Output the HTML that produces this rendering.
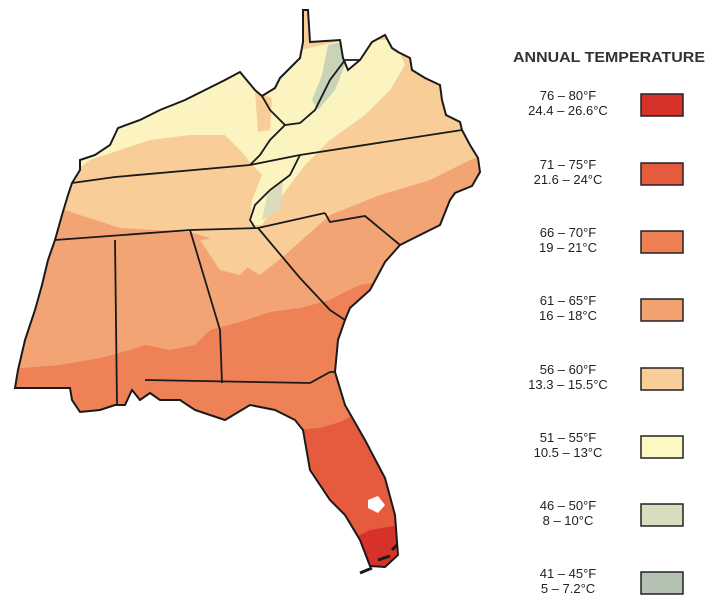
<!DOCTYPE html>
<html><head><meta charset="utf-8"><style>
body{margin:0;background:#fff;width:720px;height:605px;overflow:hidden;font-family:"Liberation Sans",sans-serif}
</style></head><body>
<svg width="720" height="605" viewBox="0 0 720 605" xmlns="http://www.w3.org/2000/svg">
<defs>
<clipPath id="c"><path id="outline" d="M55,240 L62,215 L68,195 L72,183 L80,170 L80,160 L95,155 L110,145 L118,128 L140,120 L160,110 L185,100 L205,90 L225,80 L240,72 L255,90 L262,96 L275,88 L280,78 L290,68 L300,58 L303,42 L303,10 L308,10 L310,42 L340,40 L343,58 L348,70 L360,60 L372,42 L385,35 L392,48 L398,52 L410,58 L412,70 L425,78 L440,85 L442,100 L446,115 L460,122 L462,130 L470,145 L478,158 L480,172 L472,186 L455,193 L450,200 L440,225 L410,240 L400,245 L385,262 L370,290 L350,308 L345,320 L338,340 L335,372 L345,405 L365,440 L385,478 L395,515 L398,555 L385,567 L370,566 L360,540 L345,515 L330,500 L310,470 L303,430 L295,420 L275,410 L250,405 L225,420 L210,415 L195,410 L180,400 L160,400 L150,393 L140,400 L132,390 L125,405 L115,405 L100,410 L80,412 L72,400 L70,388 L15,388 L18,370 L25,340 L35,310 L42,285 L48,260 Z"/></clipPath>
</defs>
<g clip-path="url(#c)">
<rect x="0" y="0" width="500" height="605" fill="#f9cd98"/>
<path d="M60,150 L120,120 L240,70 L300,50 L345,40 L395,40 L405,65 L390,90 L365,115 L330,140 L305,165 L290,185 L275,205 L262,225 L250,225 L252,200 L262,175 L250,162 L240,150 L225,135 L190,135 L150,140 L120,150 L90,160 L70,175 Z" fill="#fbf3c0"/>
<path d="M255,92 L272,98 L270,130 L258,132 Z" fill="#f9cd98"/>
<path d="M328,45 L342,42 L345,65 L335,90 L318,110 L312,100 L322,75 Z" fill="#c9d3b8"/>
<path d="M268,192 L283,182 L280,210 L262,220 Z" fill="#d9dcbd"/>
<path d="M0,210 L50,205 L80,215 L120,228 L190,232 L215,240 L235,260 L260,275 L285,255 L330,215 L380,195 L430,180 L470,160 L500,150 L500,605 L0,605 Z" fill="#f3a474"/>
<path d="M200,240 L240,235 L255,260 L240,275 L220,270 Z" fill="#f9cd98"/>
<path d="M0,370 L60,365 L100,358 L130,350 L145,345 L170,350 L195,345 L210,330 L240,322 L270,312 L300,308 L330,300 L345,292 L360,285 L500,260 L500,605 L0,605 Z" fill="#ee8156"/>
<path d="M295,430 L320,428 L340,422 L360,412 L500,405 L500,605 L295,605 Z" fill="#e65a3e"/>
<path d="M340,545 L370,530 L400,525 L400,605 L340,605 Z" fill="#d7322a"/>
</g>
<path d="M368,500 L378,496 L385,505 L378,513 L368,508 Z" fill="#fff"/>
<use href="#outline" fill="none" stroke="#1a1a1a" stroke-width="2"/>
<g fill="none" stroke="#1a1a1a" stroke-width="1.8">
<path d="M72,183 L115,177 L250,165 L300,155 L462,130"/>
<path d="M55,240 L190,230 L258,228 L325,213"/>
<path d="M115,240 L117,405"/>
<path d="M190,230 L220,330 L222,383"/>
<path d="M145,380 L310,383 L330,372 L335,372"/>
<path d="M258,228 L300,278 L330,310 L345,320"/>
<path d="M325,213 L330,222 L365,216 L400,245"/>
<path d="M262,96 L270,110 L285,125 L300,123 L315,110 L330,80 L345,60 L360,60"/>
<path d="M285,125 L270,140 L260,155 L250,165"/>
<path d="M300,155 L290,175 L270,190 L255,205 L250,220 L255,228"/>
<path d="M360,573 L372,568 M378,560 L390,556 M392,550 L397,545" stroke-width="3"/>
</g>
<g font-family="Liberation Sans, sans-serif" fill="#222">
<text x="513" y="62" font-size="14.5" font-weight="bold" fill="#333" textLength="192" lengthAdjust="spacingAndGlyphs">ANNUAL TEMPERATURE</text>
<g font-size="13" text-anchor="middle">
<text x="568" y="100">76 – 80°F</text><text x="568" y="115">24.4 – 26.6°C</text>
<text x="568" y="169">71 – 75°F</text><text x="568" y="184">21.6 – 24°C</text>
<text x="568" y="237">66 – 70°F</text><text x="568" y="252">19 – 21°C</text>
<text x="568" y="305">61 – 65°F</text><text x="568" y="320">16 – 18°C</text>
<text x="568" y="374">56 – 60°F</text><text x="568" y="389">13.3 – 15.5°C</text>
<text x="568" y="442">51 – 55°F</text><text x="568" y="457">10.5 – 13°C</text>
<text x="568" y="510">46 – 50°F</text><text x="568" y="525">8 – 10°C</text>
<text x="568" y="578">41 – 45°F</text><text x="568" y="593">5 – 7.2°C</text>
</g>
<g stroke="#222" stroke-width="1.5">
<rect x="641" y="94" width="42" height="22" fill="#d7322a"/>
<rect x="641" y="163" width="42" height="22" fill="#e65a3e"/>
<rect x="641" y="231" width="42" height="22" fill="#ee7f52"/>
<rect x="641" y="299" width="42" height="22" fill="#f2a171"/>
<rect x="641" y="368" width="42" height="22" fill="#f9cd98"/>
<rect x="641" y="436" width="42" height="22" fill="#fdf7c2"/>
<rect x="641" y="504" width="42" height="22" fill="#d9dcbd"/>
<rect x="641" y="572" width="42" height="22" fill="#b4c2b2"/>
</g>
</g>
</svg>
</body></html>
